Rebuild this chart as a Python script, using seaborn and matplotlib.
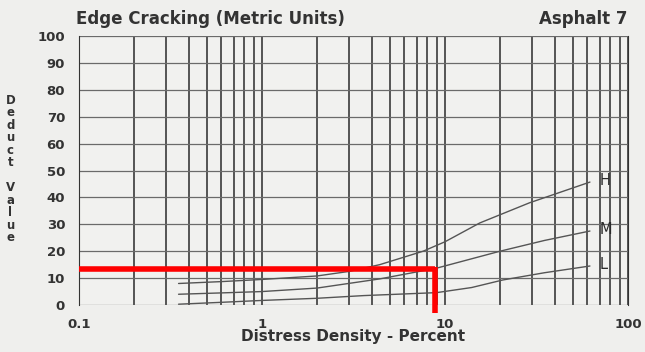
import numpy as np
import pandas as pd
import matplotlib
matplotlib.use("Agg")
import matplotlib.pyplot as plt
import seaborn as sns
from matplotlib.ticker import FixedLocator, NullFormatter, LogLocator

# data
density_h = [0.35, 0.6, 1, 2, 3, 4.4, 7.6, 10, 15.5, 29, 62]
deduct_h = [8, 8.7, 9.5, 10.8, 12.5, 15, 20, 23.5, 30.5, 38, 45.7]
density_m = [0.35, 0.6, 1, 2, 4.4, 9, 20, 35, 62]
deduct_m = [4, 4.5, 5, 6.3, 9.7, 13.7, 20, 24, 27.5]
density_l = [0.35, 0.6, 1, 2, 3.6, 9, 14, 20.7, 35, 62]
deduct_l = [0.3, 1, 1.7, 2.5, 3.5, 4.6, 6.5, 9.3, 12, 14.5]
severity = ["H", "M", "L"]

# red reading line
read_density = 8.8
read_deduct = 13.5

rows = []
for sev, xs, ys in zip(severity, [density_h, density_m, density_l], [deduct_h, deduct_m, deduct_l]):
    for x, y in zip(xs, ys):
        rows.append({"severity": sev, "density": x, "deduct": y})
df = pd.DataFrame(rows)

sns.set_style("white")
plt.rcParams["font.family"] = ["DejaVu Sans"]

fig = plt.figure(figsize=(6.45, 3.52), dpi=100)
fig.patch.set_facecolor("#efefed")
ax = fig.add_axes([0.1225, 0.1335, 0.851, 0.7642])
ax.set_facecolor("#f1f1ef")

sns.lineplot(data=df, x="density", y="deduct", units="severity", estimator=None,
             color="#555555", linewidth=1.0, ax=ax, legend=False)

ax.set_xscale("log")
ax.set_xlim(0.1, 100)
ax.set_ylim(0, 100)

# grid
ax.xaxis.set_major_locator(FixedLocator([0.1, 1, 10, 100]))
ax.xaxis.set_minor_locator(LogLocator(base=10, subs=np.arange(2, 10)))
ax.xaxis.set_minor_formatter(NullFormatter())
ax.set_xticklabels(["0.1", "1", "10", "100"])
ax.set_yticks(range(0, 101, 10))
ax.grid(True, which="major", axis="x", color="#2a2a2a", linewidth=1.1)
ax.grid(True, which="minor", axis="x", color="#2a2a2a", linewidth=1.1)
ax.grid(True, which="major", axis="y", color="#6a6a6a", linewidth=0.9)
ax.tick_params(axis="y", which="major", length=5, color="#555555", labelsize=9.5, pad=5)
ax.tick_params(axis="x", which="both", length=0, labelsize=9.5, pad=9)
for lab in ax.get_xticklabels() + ax.get_yticklabels():
    lab.set_fontweight("bold")
    lab.set_color("#333333")
for s in ax.spines.values():
    s.set_visible(False)
ax.spines["left"].set_visible(True)
ax.spines["left"].set_color("#333333")
ax.spines["right"].set_visible(True)
ax.spines["right"].set_color("#333333")

ax.set_xlabel("")
ax.set_ylabel("")

# reading line
ax.plot([0.1, read_density], [read_deduct, read_deduct], color="red", linewidth=4, solid_capstyle="butt", zorder=5)
ax.plot([read_density, read_density], [read_deduct + 0.7, -2.8], color="red", linewidth=4,
        solid_capstyle="butt", clip_on=False, zorder=5)

# curve labels
for sev, ys in zip(severity, [deduct_h, deduct_m, deduct_l]):
    ax.text(70, ys[-1] + 0.5, sev, fontsize=10.5, color="#2a2a2a", va="center", ha="left")

fig.text(0.118, 0.945, "Edge Cracking (Metric Units)", fontsize=12, fontweight="bold", color="#333333", va="center")
fig.text(0.973, 0.945, "Asphalt 7", fontsize=12, fontweight="bold", color="#333333", va="center", ha="right")
fig.text(0.547, 0.043, "Distress Density - Percent", fontsize=11, fontweight="bold", color="#333333",
         ha="center", va="center")
fig.text(0.016, 0.52, "D\ne\nd\nu\nc\nt\n\nV\na\nl\nu\ne", fontsize=8.5, fontweight="bold", color="#333333",
         ha="center", va="center", linespacing=0.95)

fig.savefig("out.png", dpi=100, facecolor=fig.get_facecolor())
